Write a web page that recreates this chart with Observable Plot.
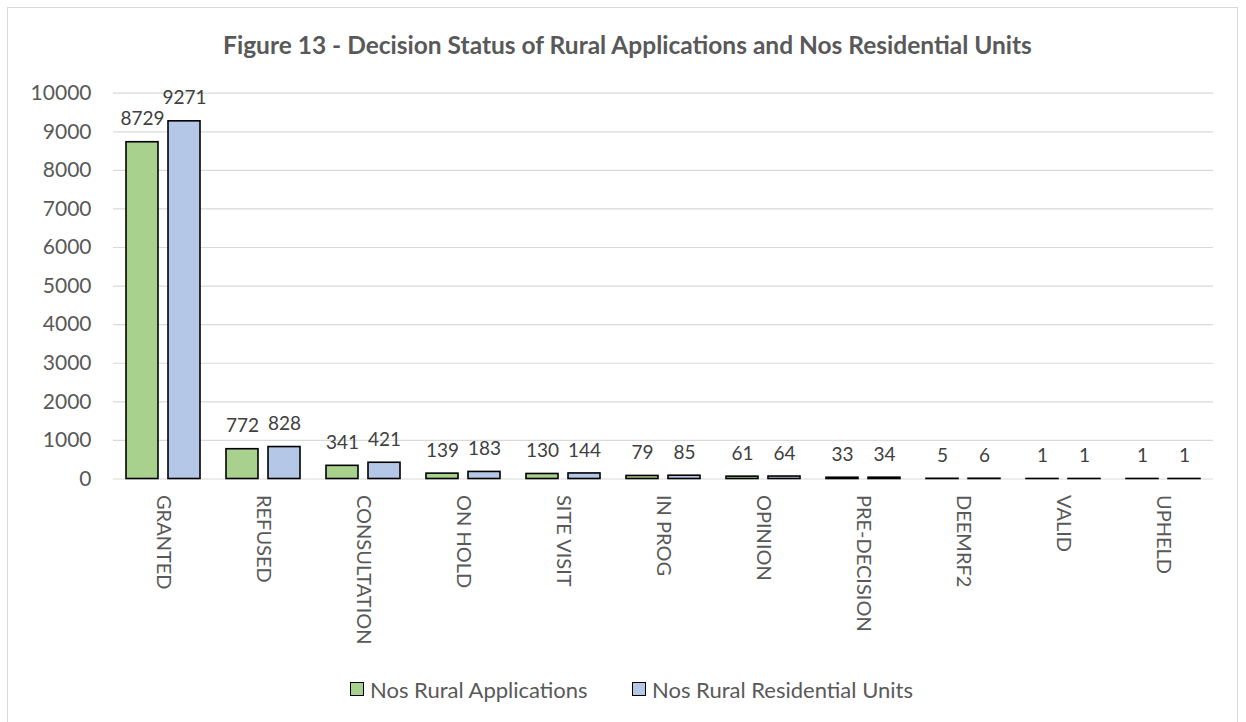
<!DOCTYPE html>
<html>
<head>
<meta charset="utf-8">
<script src="https://cdn.jsdelivr.net/npm/d3@7"></script>
<script src="https://cdn.jsdelivr.net/npm/@observablehq/plot@0.6"></script>
<style>
  html, body { margin: 0; padding: 0; background: #fff; }
  #wrap { position: relative; width: 1246px; height: 722px; overflow: hidden; font-family: Lato, sans-serif; }
  #frame { position: absolute; left: 7px; top: 7px; width: 1231px; height: 730px; border: 1px solid #d9d9d9; box-sizing: border-box; }
  #title { position: absolute; left: 9px; width: 1237px; top: 30px; height: 30px; line-height: 30px; text-align: center; font-weight: bold; font-size: 24.5px; color: #595959; }
  #chart { position: absolute; left: 0; top: 80px; }
  .leg { position: absolute; top: 677px; height: 24px; display: flex; align-items: center; font-size: 22px; color: #595959; }
  .sw { width: 12px; height: 12px; border: 1.5px solid #000; margin-right: 6px; }
</style>
</head>
<body>
<div id="wrap">
  <div id="frame"></div>
  <div id="title">Figure 13 - Decision Status of Rural Applications and Nos Residential Units</div>
  <div id="chart"></div>
  <div class="leg" style="left:350px"><div class="sw" style="background:#a9d18e"></div><span id="l1"></span></div>
  <div class="leg" style="left:632px"><div class="sw" style="background:#b4c7e7"></div><span id="l2"></span></div>
</div>
<script>
const categories = ["GRANTED", "REFUSED", "CONSULTATION", "ON HOLD", "SITE VISIT", "IN PROG", "OPINION", "PRE-DECISION", "DEEMRF2", "VALID", "UPHELD"];
const seriesNames = ["Nos Rural Applications", "Nos Rural Residential Units"];
const applications = [8729, 772, 341, 139, 130, 79, 61, 33, 5, 1, 1];
const residentialUnits = [9271, 828, 421, 183, 144, 85, 64, 34, 6, 1, 1];
const seriesColors = ["#a9d18e", "#b4c7e7"];
const yTicks = [0, 1000, 2000, 3000, 4000, 5000, 6000, 7000, 8000, 9000, 10000];

const rows = [];
categories.forEach((c, i) => {
  rows.push({status: c, series: seriesNames[0], value: applications[i]});
  rows.push({status: c, series: seriesNames[1], value: residentialUnits[i]});
});

document.getElementById("l1").textContent = seriesNames[0];
document.getElementById("l2").textContent = seriesNames[1];

const chart = Plot.plot({
  width: 1246,
  height: 600,
  marginLeft: 108,
  marginRight: 28,
  marginTop: 12.7,
  marginBottom: 201.5,
  style: {fontFamily: "Lato, sans-serif", background: "transparent"},
  fx: {domain: categories, padding: 0},
  x: {domain: seriesNames, paddingInner: 0.237, paddingOuter: 0.3, axis: null},
  y: {domain: [0, 10000]},
  color: {domain: seriesNames, range: seriesColors},
  marks: [
    Plot.gridY(yTicks, {stroke: "#d9d9d9", strokeOpacity: 1, strokeWidth: 1.2}),
    Plot.axisY(yTicks, {tickSize: 0, tickPadding: 22, fontSize: 21, fill: "#595959", tickFormat: d3.format("d"), label: null}),
    Plot.axisFx({anchor: "bottom", tickRotate: 90, tickSize: 0, tickPadding: 16, fontSize: 20, fill: "#595959", label: null}),
    Plot.barY(rows, {fx: "status", x: "series", y: "value", fill: "series", stroke: "#000", strokeWidth: 1.6}),
    Plot.text(rows, {fx: "status", x: "series", y: "value", text: d => String(d.value), dy: -23, fontSize: 19, fill: "#404040"})
  ]
});
document.getElementById("chart").appendChild(chart);
</script>
</body>
</html>
